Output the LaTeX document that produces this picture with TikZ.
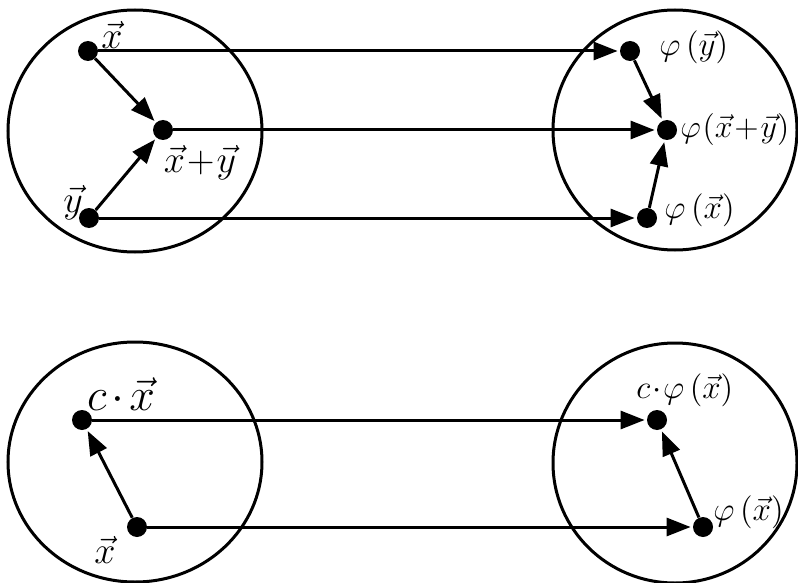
\RequirePackage{fix-cm}
\documentclass[tikz,border=0pt]{standalone}
\usetikzlibrary{arrows.meta}
\begin{document}
\begin{tikzpicture}[x=0.5pt,y=-0.5pt,
  dot/.style={circle,fill=black,inner sep=0pt,minimum size=10pt},
  ring/.style={draw,line width=1.5pt},
  arr/.style={line width=1.5pt,-{Triangle[length=12pt,width=9pt]},shorten >=1pt},
  lab/.style={inner sep=0pt,font=\fontsize{19}{22}\selectfont},
  plab/.style={inner sep=0pt,anchor=west,font=\fontsize{16.5}{20}\selectfont}]
\useasboundingbox (0,0) rectangle (798,583);
% circles
\draw[ring] (135,131) ellipse [x radius=63.5pt, y radius=60.5pt];
\draw[ring] (675,130) ellipse [x radius=61pt, y radius=60pt];
\draw[ring] (135,462) ellipse [x radius=63.5pt, y radius=60pt];
\draw[ring] (675,463) ellipse [x radius=61pt, y radius=60pt];
% top dots
\node[dot] (x) at (88,51) {};
\node[dot] (xy) at (163,130) {};
\node[dot] (y) at (89,218) {};
\node[dot] (py) at (630,51) {};
\node[dot] (pxy) at (667,130) {};
\node[dot] (px) at (647,218) {};
% top labels
\node[lab] (lx) at (112,35) {$\vec{x}$};
\node[lab] (lxy) at (200,163) {$\vec{x}\!+\!\vec{y}$};
\node[lab] (ly) at (73,203) {$\vec{y}$};
\node[plab] (lpy) at (659,47) {$\varphi\,(\vec{y})$};
\node[plab,font=\fontsize{16}{20}\selectfont] (lpxy) at (680,130) {$\varphi\mkern1mu(\vec{x}\!+\!\vec{y})$};
\node[plab] (lpx) at (664,210) {$\varphi\,(\vec{x})$};
% top arrows
\draw[arr] (x) -- (py);
\draw[arr] (xy) -- (pxy);
\draw[arr] (y) -- (px);
\draw[arr] (x) -- (xy);
\draw[arr] (y) -- (xy);
\draw[arr] (py) -- (pxy);
\draw[arr] (px) -- (pxy);
% bottom dots
\node[dot] (cx) at (82,420) {};
\node[dot] (bx) at (137,527) {};
\node[dot] (cpx) at (657,420) {};
\node[dot] (bpx) at (703,527) {};
% bottom labels
\node[lab,font=\fontsize{23}{27}\selectfont] (lcx) at (121,394) {$c\mkern2mu{\cdot}\mkern2mu\vec{x}$};
\node[lab] (lbx) at (105,550) {$\vec{x}$};
\node[plab] (lcpx) at (636,390) {$c\mkern1mu{\cdot}\mkern1mu\varphi\,(\vec{x})$};
\node[plab] (lbpx) at (713,512) {$\varphi\,(\vec{x})$};
% bottom arrows
\draw[arr] (cx) -- (cpx);
\draw[arr] (bx) -- (bpx);
\draw[arr] (bx) -- (cx);
\draw[arr] (bpx) -- (cpx);
\end{tikzpicture}
\end{document}
